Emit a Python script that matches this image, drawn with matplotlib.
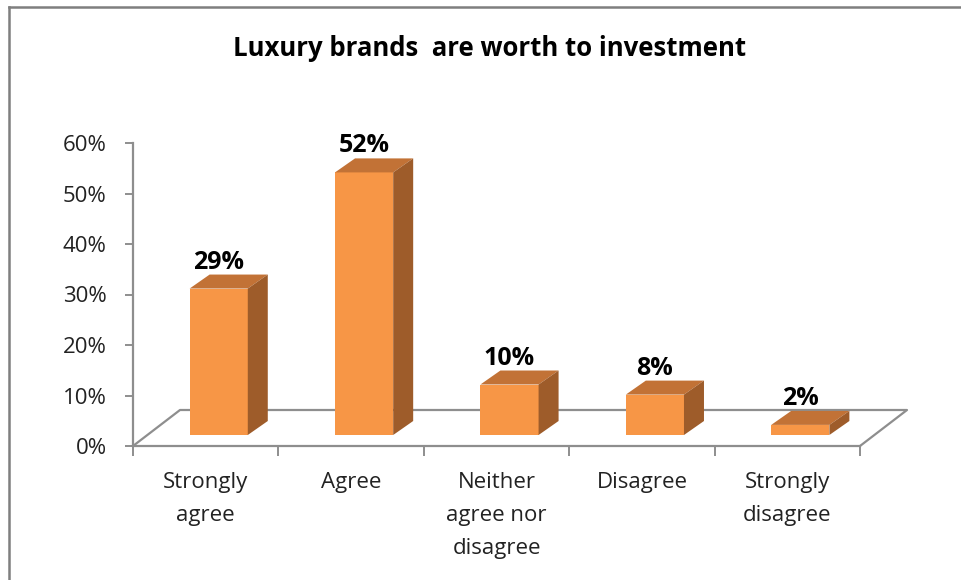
import matplotlib
matplotlib.use("Agg")
import matplotlib.pyplot as plt
import numpy as np
from matplotlib.patches import Polygon
from matplotlib.lines import Line2D

categories = ["Strongly\nagree", "Agree", "Neither\nagree nor\ndisagree", "Disagree", "Strongly\ndisagree"]
values = [29, 52, 10, 8, 2]
value_labels = ["29%", "52%", "10%", "8%", "2%"]
yticks = [0, 10, 20, 30, 40, 50, 60]
ytick_labels = ["0%", "10%", "20%", "30%", "40%", "50%", "60%"]
title = "Luxury brands  are worth to investment"

FRONT = "#F79646"
TOP = "#C27236"
SIDE = "#9E5C2A"
GRID = "#8E8E8E"
FONT = "Open Sans"

W, H = 961, 580
fig = plt.figure(figsize=(W / 100, H / 100), dpi=100)
ax = fig.add_axes([133 / W, (H - 446) / H, (860 - 133) / W, (446 - 143) / H])
n = len(categories)
ax.set_xlim(0, n)
ax.set_ylim(0, 60)
ax.patch.set_alpha(0)

# pixel -> data deltas
px_x = (ax.transData.transform((1, 0)) - ax.transData.transform((0, 0)))[0]
px_y = (ax.transData.transform((0, 1)) - ax.transData.transform((0, 0)))[1]
def d(dx, dy):
    return dx / px_x, dy / px_y

floor_dx, floor_dy = d(47, 36)
shift_dx, shift_dy = d(13, 11)
depth_dx, depth_dy = d(20, 14)
bw = 0.40

# floor outline (left, back, right edges)
ax.add_line(Line2D([0, floor_dx, n + floor_dx, n], [0, floor_dy, floor_dy, 0],
                   color=GRID, lw=1.6, clip_on=False, zorder=1))

centers = np.arange(n) + 0.5
ax.bar(centers + shift_dx, values, width=bw, bottom=shift_dy, color=FRONT,
       edgecolor="none", zorder=3, clip_on=False)
for c, v, lab in zip(centers, values, value_labels):
    x0 = c + shift_dx - bw / 2
    x1 = c + shift_dx + bw / 2
    yb = shift_dy
    yt = shift_dy + v
    top = Polygon([(x0, yt), (x1, yt), (x1 + depth_dx, yt + depth_dy), (x0 + depth_dx, yt + depth_dy)],
                  closed=True, facecolor=TOP, edgecolor="none", zorder=3, clip_on=False)
    side = Polygon([(x1, yb), (x1, yt), (x1 + depth_dx, yt + depth_dy), (x1 + depth_dx, yb + depth_dy)],
                   closed=True, facecolor=SIDE, edgecolor="none", zorder=3, clip_on=False)
    ax.add_patch(top)
    ax.add_patch(side)
    ax.text(c + shift_dx, yt + depth_dy + d(0, 6)[1], lab, ha="center", va="baseline",
            fontsize=18, fontweight="bold", family=FONT, color="black", zorder=4)

# spines
for s in ["top", "right"]:
    ax.spines[s].set_visible(False)
for s in ["left", "bottom"]:
    ax.spines[s].set_color(GRID)
    ax.spines[s].set_linewidth(1.6)

ax.set_yticks(yticks)
ax.set_yticklabels(ytick_labels, family=FONT, fontsize=16, color="#222222")
ax.tick_params(axis="y", length=6, width=1.4, color=GRID, pad=13)

ax.set_xticks(centers)
ax.set_xticklabels(categories, family=FONT, fontsize=16, color="#222222", linespacing=1.75)
ax.set_xticks(np.arange(n + 1), minor=True)
ax.tick_params(axis="x", which="major", length=0, pad=19)
ax.tick_params(axis="x", which="minor", length=7, width=1.4, color=GRID)

fig.text(490 / W, 1 - 48 / H, title, ha="center", va="center", fontsize=18.5,
         fontweight="bold", family=FONT, color="black")

# chart border (left and top edges visible)
fig.add_artist(Line2D([9 / W, 9 / W], [0, 1 - 7 / H], transform=fig.transFigure, color="#7F7F7F", lw=1.8))
fig.add_artist(Line2D([9 / W, 1], [1 - 7 / H, 1 - 7 / H], transform=fig.transFigure, color="#7F7F7F", lw=1.8))

fig.savefig("out.png", dpi=100)
